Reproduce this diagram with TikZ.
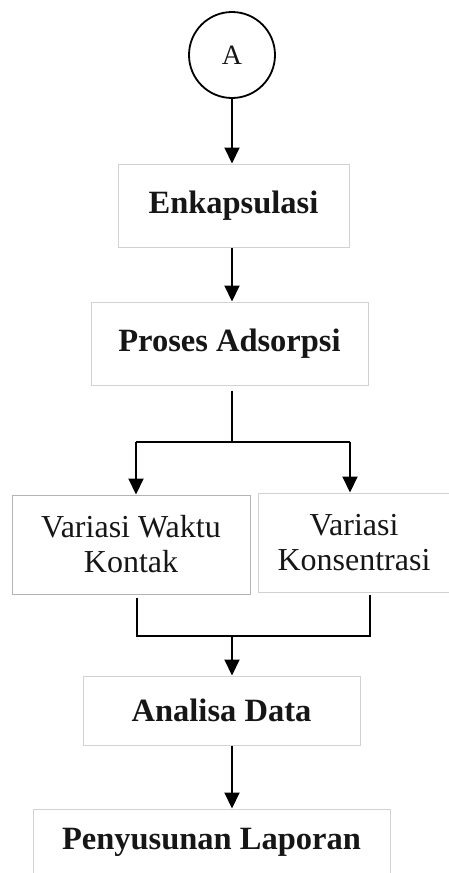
\documentclass[tikz,border=0pt]{standalone}
\usepackage{fontspec}
\setmainfont{Liberation Serif}
\usetikzlibrary{arrows.meta}
\definecolor{boxgray}{HTML}{D2D2D2}
\definecolor{boxgraydark}{HTML}{B4B4B4}
\definecolor{ink}{HTML}{161616}
\tikzset{
  stepbox/.style={draw=boxgray, line width=1pt, inner sep=0pt, text=ink,
    font=\fontsize{32.5}{38}\selectfont\bfseries},
  varbox/.style={draw=boxgraydark, line width=1pt, inner sep=0pt, text=ink, align=center,
    font=\fontsize{32}{35}\selectfont},
  arr/.style={draw=black, line width=2pt, -{Triangle[width=15pt,length=16pt]}},
  conn/.style={draw=black, line width=1.4pt},
  startcircle/.style={draw=black, circle, line width=1.8pt, minimum size=86pt, inner sep=0pt,
    font=\fontsize{28}{30}\selectfont, text=ink}
}
\begin{document}
\begin{tikzpicture}[x=1pt,y=-1pt]
\fill[white] (0,0) rectangle (449,873);
\useasboundingbox (0,0) rectangle (449,873);

\node[startcircle] (A) at (232,55) {A};
\node[stepbox, minimum width=231pt, minimum height=83pt] (enk) at (233.5,205.5) {Enkapsulasi};
\node[stepbox, minimum width=277pt, minimum height=83pt] (pro) at (229.5,343.5) {Proses Adsorpsi};
\node[varbox, draw=boxgraydark, minimum width=238pt, minimum height=99pt] (vl) at (131,544.5) {Variasi Waktu\\Kontak};
\node[varbox, draw=boxgray, minimum width=192pt, minimum height=99pt] (vr) at (354,542.5) {Variasi\\Konsentrasi};
\node[stepbox, minimum width=277pt, minimum height=69pt] (ana) at (221.5,710.5) {Analisa Data};
\node[stepbox, minimum width=357pt, minimum height=67pt] (pen) at (211.5,842.5) {Penyusunan Laporan};

% A -> Enkapsulasi
\draw[arr] (A.south) -- (A.south |- enk.north);
% Enkapsulasi -> Proses
\coordinate (mid) at (232,0);
\draw[arr] (enk.south -| mid) -- (pro.north -| mid);

% split
\coordinate (split) at (232,442);
\coordinate (bl) at (136,442);
\coordinate (br) at (350,442);
\draw[conn, line width=1.2pt, shorten <=5pt] (pro.south -| split) -- (split);
\draw[conn] (bl) -- (br);
\draw[arr] (bl) -- (bl |- vl.north);
\draw[arr] (br) -- (br |- vr.north);

% join
\coordinate (jl) at (137,636);
\coordinate (jr) at (370,636);
\coordinate (jm) at (232,636);
\draw[conn, shorten <=3pt, shorten >=2pt] (vl.south -| jl) -- (jl) -- (jr) -- (vr.south -| jr);
\draw[arr] (jm) -- (jm |- ana.north);

% Analisa -> Penyusunan
\draw[arr] (ana.south -| mid) -- (pen.north -| mid);
\end{tikzpicture}
\end{document}
